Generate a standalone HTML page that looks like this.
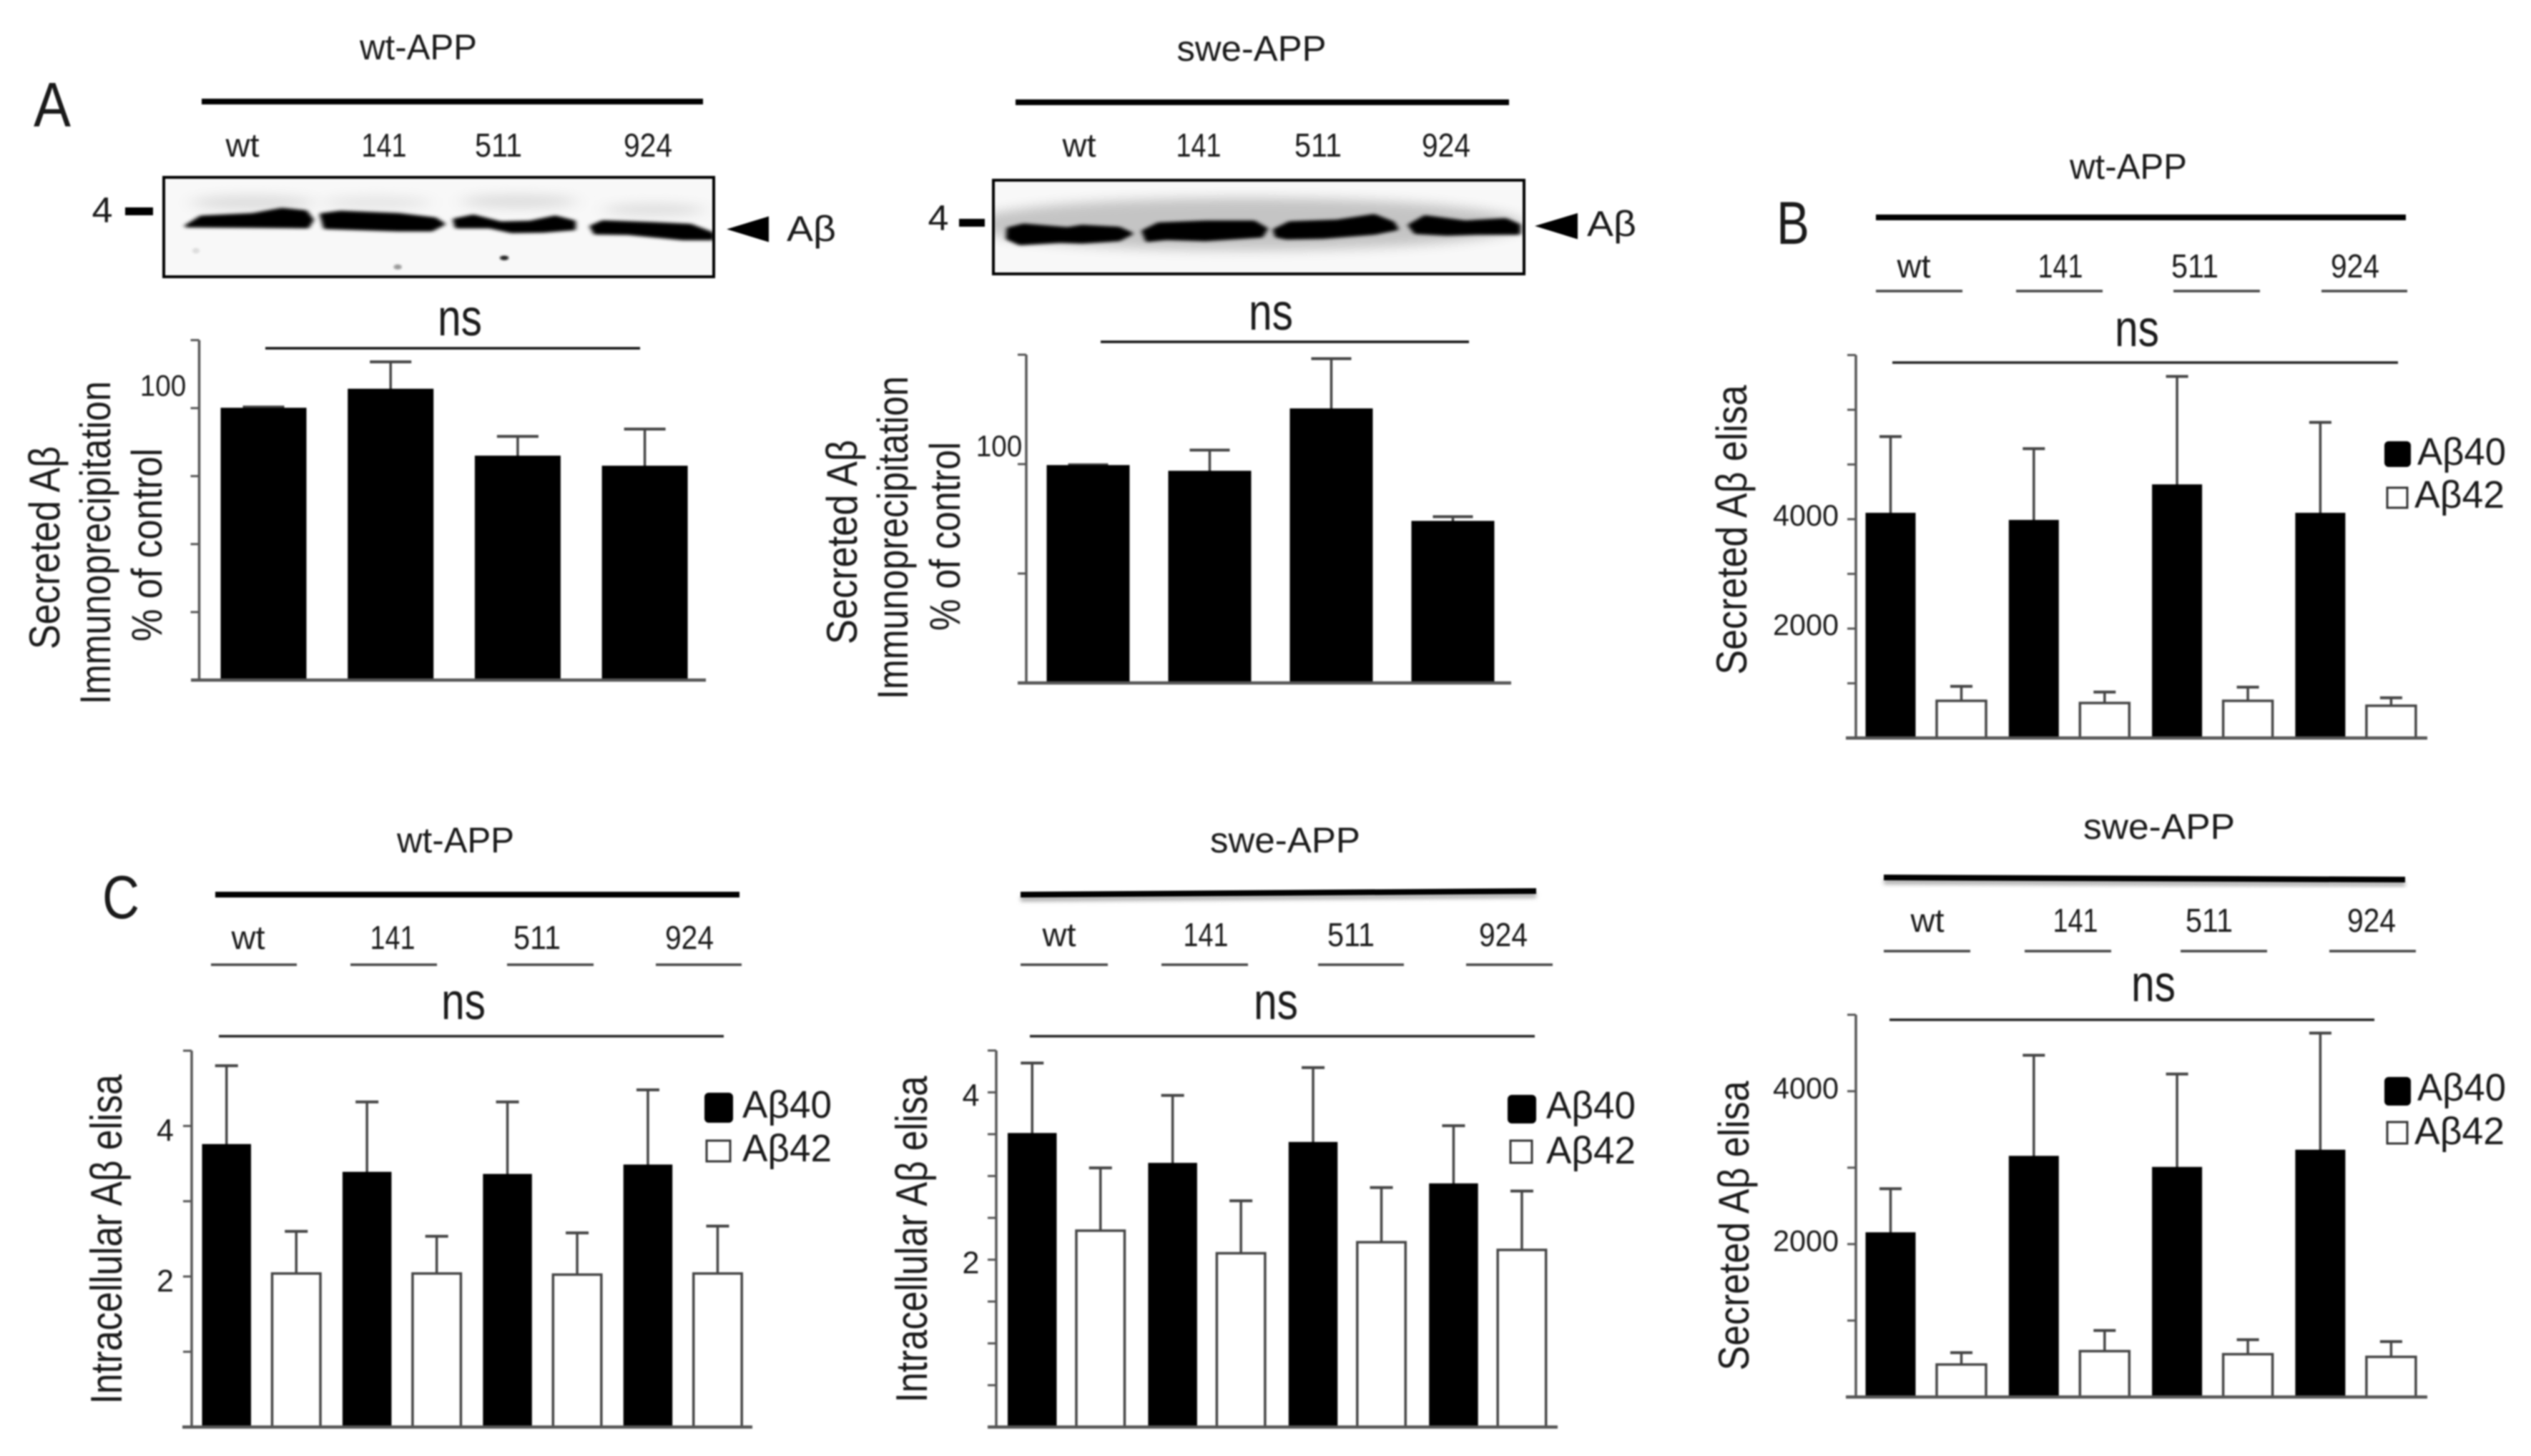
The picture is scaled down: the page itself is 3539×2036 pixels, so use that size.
<!DOCTYPE html>
<html lang="en">
<head>
<meta charset="utf-8">
<title>Secreted and intracellular A-beta western blots and ELISA charts</title>
<style>
html,body{margin:0;padding:0;background:#fff;width:3539px;height:2036px;overflow:hidden}
svg{display:block}
text{font-family:"Liberation Sans",Arial,sans-serif;fill:#1a1a1a;}
#root{filter:blur(1.1px)}
</style>
</head>
<body>
<svg id="figure" xmlns="http://www.w3.org/2000/svg" width="3539" height="2036" viewBox="0 0 3539 2036">
<defs>
<filter id="soft" x="-10%" y="-200%" width="120%" height="500%"><feGaussianBlur stdDeviation="3"/></filter>
<filter id="bandBlur" x="-20%" y="-100%" width="140%" height="300%"><feGaussianBlur stdDeviation="6"/></filter>
<filter id="haloBlur" x="-30%" y="-200%" width="160%" height="500%"><feGaussianBlur stdDeviation="24"/></filter>
<clipPath id="blot1Clip"><rect x="229" y="248" width="769" height="139"/></clipPath>
<clipPath id="blot2Clip"><rect x="1389" y="252" width="742" height="131"/></clipPath>
</defs>
<rect width="3539" height="2036" fill="#fff"/>
<g id="root">

<!-- Panel letters -->
<text x="47" y="177" font-size="88" textLength="52" lengthAdjust="spacingAndGlyphs">A</text>
<text x="2484" y="341" font-size="84" textLength="46" lengthAdjust="spacingAndGlyphs">B</text>
<text x="143" y="1284" font-size="85" textLength="52" lengthAdjust="spacingAndGlyphs">C</text>

<!-- A left header -->
<text x="585" y="83" font-size="50" text-anchor="middle" textLength="164" lengthAdjust="spacingAndGlyphs">wt-APP</text>
<line x1="282" y1="148" x2="983" y2="148" stroke="#aaa" stroke-width="7" filter="url(#soft)"/>
<line x1="282" y1="142" x2="983" y2="142" stroke="#000" stroke-width="8"/>
<text x="339" y="219" font-size="46" text-anchor="middle" textLength="47" lengthAdjust="spacingAndGlyphs">wt</text>
<text x="537" y="219" font-size="46" text-anchor="middle" textLength="63" lengthAdjust="spacingAndGlyphs">141</text>
<text x="697" y="219" font-size="46" text-anchor="middle" textLength="66" lengthAdjust="spacingAndGlyphs">511</text>
<text x="906" y="219" font-size="46" text-anchor="middle" textLength="68" lengthAdjust="spacingAndGlyphs">924</text>

<!-- Blot 1 -->
<g>
<rect x="229" y="248" width="769" height="139" fill="#f8f8f8"/>
<g clip-path="url(#blot1Clip)">
<g transform="translate(200 220) scale(0.5102 0.3333)">
<ellipse cx="300" cy="190" rx="170" ry="30" fill="#dcdcdc" filter="url(#haloBlur)"/>
<ellipse cx="640" cy="190" rx="150" ry="26" fill="#e4e4e4" filter="url(#haloBlur)"/>
<ellipse cx="1030" cy="185" rx="160" ry="28" fill="#dcdcdc" filter="url(#haloBlur)"/>
<ellipse cx="1400" cy="220" rx="140" ry="24" fill="#dcdcdc" filter="url(#haloBlur)"/>
<g filter="url(#bandBlur)" fill="#000" stroke="#000" stroke-width="12" stroke-linejoin="round">
<path d="M120 288 L160 250 L300 240 L380 218 L445 228 L462 262 L450 292 L300 290 Z"/>
<path d="M490 240 L540 230 L700 240 L800 258 L822 280 L790 305 L700 305 L500 295 Z"/>
<path d="M855 262 L905 246 L980 275 L1060 272 L1130 250 L1180 270 L1180 300 L1100 310 L1010 312 L950 292 L860 292 Z"/>
<path d="M1230 290 L1260 270 L1400 278 L1500 285 L1560 320 L1560 342 L1480 342 L1330 320 L1240 318 Z"/>
</g>
<ellipse cx="990" cy="422" rx="12" ry="10" fill="#222" filter="url(#soft)"/>
<ellipse cx="698" cy="460" rx="11" ry="11" fill="#999" filter="url(#soft)"/>
<ellipse cx="145" cy="392" rx="10" ry="12" fill="#ddd" filter="url(#soft)"/>
</g>
</g>
<rect x="229" y="248" width="769" height="139" fill="none" stroke="#000" stroke-width="4"/>
</g>
<text x="143" y="311" font-size="50" text-anchor="middle" textLength="29" lengthAdjust="spacingAndGlyphs">4</text>
<rect x="175" y="290" width="39" height="11" fill="#000"/>
<polygon points="1016,320.5 1075,302.5 1075,338.5" fill="#000"/>
<text x="1100" y="337" font-size="50" textLength="69" lengthAdjust="spacingAndGlyphs">Aβ</text>

<!-- A left stats -->
<text x="643" y="469" font-size="72" text-anchor="middle" textLength="62" lengthAdjust="spacingAndGlyphs">ns</text>
<line x1="371" y1="487" x2="895" y2="487" stroke="#111" stroke-width="3.5"/>
<text transform="translate(83 766) rotate(-90)" font-size="60" text-anchor="middle" textLength="284" lengthAdjust="spacingAndGlyphs">Secreted Aβ</text>
<text transform="translate(154 759) rotate(-90)" font-size="60" text-anchor="middle" textLength="452" lengthAdjust="spacingAndGlyphs">Immunoprecipitation</text>
<text transform="translate(226 762) rotate(-90)" font-size="60" text-anchor="middle" textLength="270" lengthAdjust="spacingAndGlyphs">% of control</text>

<!-- A right header -->
<text x="1750" y="85" font-size="50" text-anchor="middle" textLength="209" lengthAdjust="spacingAndGlyphs">swe-APP</text>
<line x1="1420" y1="149" x2="2110" y2="149" stroke="#aaa" stroke-width="7" filter="url(#soft)"/>
<line x1="1420" y1="143" x2="2110" y2="143" stroke="#000" stroke-width="8"/>
<text x="1509" y="219" font-size="46" text-anchor="middle" textLength="47" lengthAdjust="spacingAndGlyphs">wt</text>
<text x="1676" y="219" font-size="46" text-anchor="middle" textLength="63" lengthAdjust="spacingAndGlyphs">141</text>
<text x="1843" y="219" font-size="46" text-anchor="middle" textLength="66" lengthAdjust="spacingAndGlyphs">511</text>
<text x="2022" y="219" font-size="46" text-anchor="middle" textLength="68" lengthAdjust="spacingAndGlyphs">924</text>

<!-- Blot 2 -->
<g>
<rect x="1389" y="252" width="742" height="131" fill="#f8f8f8"/>
<g clip-path="url(#blot2Clip)">
<g transform="translate(1360 220) scale(0.5102 0.3333)">
<ellipse cx="750" cy="280" rx="760" ry="110" fill="#c4c4c4" filter="url(#haloBlur)"/>
<g filter="url(#bandBlur)" fill="#000" stroke="#000" stroke-width="14" stroke-linejoin="round">
<path d="M100 300 L140 285 L260 300 L300 290 L400 298 L432 320 L400 345 L300 355 L240 352 L130 362 L98 340 Z"/>
<path d="M470 310 L510 280 L640 272 L770 272 L802 300 L790 330 L640 345 L530 340 L480 348 Z"/>
<path d="M830 305 L870 275 L1000 268 L1100 245 L1150 275 L1160 300 L1100 318 L960 335 L860 338 L835 330 Z"/>
<path d="M1200 285 L1240 250 L1350 272 L1460 262 L1495 285 L1495 318 L1380 318 L1300 322 L1215 315 Z"/>
</g>
</g>
</g>
<rect x="1389" y="252" width="742" height="131" fill="none" stroke="#000" stroke-width="4"/>
</g>
<text x="1312" y="322" font-size="50" text-anchor="middle" textLength="29" lengthAdjust="spacingAndGlyphs">4</text>
<rect x="1341" y="306" width="36" height="11" fill="#000"/>
<polygon points="2146,316 2206,298 2206,334.5" fill="#000"/>
<text x="2219" y="330" font-size="50" textLength="69" lengthAdjust="spacingAndGlyphs">Aβ</text>

<!-- A right stats -->
<text x="1777" y="461" font-size="72" text-anchor="middle" textLength="62" lengthAdjust="spacingAndGlyphs">ns</text>
<line x1="1539" y1="478" x2="2054" y2="478" stroke="#111" stroke-width="3.5"/>
<text transform="translate(1198 758) rotate(-90)" font-size="60" text-anchor="middle" textLength="286" lengthAdjust="spacingAndGlyphs">Secreted Aβ</text>
<text transform="translate(1269 752) rotate(-90)" font-size="60" text-anchor="middle" textLength="452" lengthAdjust="spacingAndGlyphs">Immunoprecipitation</text>
<text transform="translate(1342 750) rotate(-90)" font-size="60" text-anchor="middle" textLength="264" lengthAdjust="spacingAndGlyphs">% of control</text>

<!-- B top header -->
<text x="2976" y="250" font-size="50" text-anchor="middle" textLength="164" lengthAdjust="spacingAndGlyphs">wt-APP</text>
<line x1="2623" y1="310" x2="3364" y2="310" stroke="#aaa" stroke-width="7" filter="url(#soft)"/>
<line x1="2623" y1="304" x2="3364" y2="304" stroke="#000" stroke-width="8"/>
<text x="2676" y="388" font-size="46" text-anchor="middle" textLength="47" lengthAdjust="spacingAndGlyphs">wt</text>
<text x="2881" y="388" font-size="46" text-anchor="middle" textLength="63" lengthAdjust="spacingAndGlyphs">141</text>
<text x="3069" y="388" font-size="46" text-anchor="middle" textLength="66" lengthAdjust="spacingAndGlyphs">511</text>
<text x="3293" y="388" font-size="46" text-anchor="middle" textLength="68" lengthAdjust="spacingAndGlyphs">924</text>
<g stroke="#444" stroke-width="3.5">
<line x1="2623" y1="407" x2="2744" y2="407"/><line x1="2819" y1="407" x2="2940" y2="407"/><line x1="3039" y1="407" x2="3160" y2="407"/><line x1="3246" y1="407" x2="3366" y2="407"/>
</g>
<text x="2988" y="484" font-size="72" text-anchor="middle" textLength="62" lengthAdjust="spacingAndGlyphs">ns</text>
<line x1="2646" y1="507" x2="3353" y2="507" stroke="#222" stroke-width="3.5"/>
<text transform="translate(2442 741) rotate(-90)" font-size="60" text-anchor="middle" textLength="405" lengthAdjust="spacingAndGlyphs">Secreted Aβ elisa</text>
<g>
<rect x="3334" y="617" width="37" height="36" rx="6" fill="#000"/>
<text x="3380" y="650" font-size="54" textLength="124" lengthAdjust="spacingAndGlyphs">Aβ40</text>
<rect x="3338" y="682" width="28" height="28" fill="#fff" stroke="#333" stroke-width="3"/>
<text x="3376" y="710" font-size="54" textLength="126" lengthAdjust="spacingAndGlyphs">Aβ42</text>
</g>

<!-- B bottom header -->
<text x="3019" y="1173" font-size="50" text-anchor="middle" textLength="212" lengthAdjust="spacingAndGlyphs">swe-APP</text>
<line x1="2634" y1="1233" x2="3363" y2="1236" stroke="#aaa" stroke-width="7" filter="url(#soft)"/>
<line x1="2634" y1="1227" x2="3363" y2="1230" stroke="#000" stroke-width="8"/>
<text x="2695" y="1303" font-size="46" text-anchor="middle" textLength="47" lengthAdjust="spacingAndGlyphs">wt</text>
<text x="2902" y="1303" font-size="46" text-anchor="middle" textLength="63" lengthAdjust="spacingAndGlyphs">141</text>
<text x="3089" y="1303" font-size="46" text-anchor="middle" textLength="66" lengthAdjust="spacingAndGlyphs">511</text>
<text x="3316" y="1303" font-size="46" text-anchor="middle" textLength="68" lengthAdjust="spacingAndGlyphs">924</text>
<g stroke="#444" stroke-width="3.5">
<line x1="2634" y1="1330" x2="2755" y2="1330"/><line x1="2831" y1="1330" x2="2952" y2="1330"/><line x1="3049" y1="1330" x2="3170" y2="1330"/><line x1="3257" y1="1330" x2="3378" y2="1330"/>
</g>
<text x="3011" y="1400" font-size="72" text-anchor="middle" textLength="62" lengthAdjust="spacingAndGlyphs">ns</text>
<line x1="2642" y1="1426" x2="3320" y2="1426" stroke="#222" stroke-width="3.5"/>
<text transform="translate(2445 1714) rotate(-90)" font-size="60" text-anchor="middle" textLength="405" lengthAdjust="spacingAndGlyphs">Secreted Aβ elisa</text>
<g>
<rect x="3334" y="1506" width="37" height="40" rx="6" fill="#000"/>
<text x="3380" y="1539" font-size="54" textLength="124" lengthAdjust="spacingAndGlyphs">Aβ40</text>
<rect x="3338" y="1569" width="28" height="30" fill="#fff" stroke="#333" stroke-width="3"/>
<text x="3376" y="1600" font-size="54" textLength="126" lengthAdjust="spacingAndGlyphs">Aβ42</text>
</g>

<!-- C left header -->
<text x="637" y="1192" font-size="50" text-anchor="middle" textLength="164" lengthAdjust="spacingAndGlyphs">wt-APP</text>
<line x1="301" y1="1257" x2="1034" y2="1257" stroke="#aaa" stroke-width="7" filter="url(#soft)"/>
<line x1="301" y1="1251" x2="1034" y2="1251" stroke="#000" stroke-width="8"/>
<text x="347" y="1327" font-size="46" text-anchor="middle" textLength="47" lengthAdjust="spacingAndGlyphs">wt</text>
<text x="549" y="1327" font-size="46" text-anchor="middle" textLength="63" lengthAdjust="spacingAndGlyphs">141</text>
<text x="751" y="1327" font-size="46" text-anchor="middle" textLength="66" lengthAdjust="spacingAndGlyphs">511</text>
<text x="964" y="1327" font-size="46" text-anchor="middle" textLength="68" lengthAdjust="spacingAndGlyphs">924</text>
<g stroke="#444" stroke-width="3.5">
<line x1="295" y1="1349" x2="415" y2="1349"/><line x1="490" y1="1349" x2="611" y2="1349"/><line x1="709" y1="1349" x2="830" y2="1349"/><line x1="917" y1="1349" x2="1037" y2="1349"/>
</g>
<text x="648" y="1425" font-size="72" text-anchor="middle" textLength="62" lengthAdjust="spacingAndGlyphs">ns</text>
<line x1="306" y1="1449" x2="1012" y2="1449" stroke="#222" stroke-width="3.5"/>
<text transform="translate(170 1733) rotate(-90)" font-size="62" text-anchor="middle" textLength="461" lengthAdjust="spacingAndGlyphs">Intracellular Aβ elisa</text>
<g>
<rect x="985" y="1528" width="40" height="42" rx="6" fill="#000"/>
<text x="1038" y="1563" font-size="54" textLength="125" lengthAdjust="spacingAndGlyphs">Aβ40</text>
<rect x="988" y="1595" width="33" height="29" fill="#fff" stroke="#333" stroke-width="3"/>
<text x="1038" y="1624" font-size="54" textLength="125" lengthAdjust="spacingAndGlyphs">Aβ42</text>
</g>

<!-- C right header -->
<text x="1797" y="1192" font-size="50" text-anchor="middle" textLength="210" lengthAdjust="spacingAndGlyphs">swe-APP</text>
<line x1="1427" y1="1257" x2="2148" y2="1252" stroke="#aaa" stroke-width="7" filter="url(#soft)"/>
<line x1="1427" y1="1251" x2="2148" y2="1246" stroke="#000" stroke-width="8"/>
<text x="1481" y="1323" font-size="46" text-anchor="middle" textLength="47" lengthAdjust="spacingAndGlyphs">wt</text>
<text x="1686" y="1323" font-size="46" text-anchor="middle" textLength="63" lengthAdjust="spacingAndGlyphs">141</text>
<text x="1889" y="1323" font-size="46" text-anchor="middle" textLength="66" lengthAdjust="spacingAndGlyphs">511</text>
<text x="2102" y="1323" font-size="46" text-anchor="middle" textLength="68" lengthAdjust="spacingAndGlyphs">924</text>
<g stroke="#444" stroke-width="3.5">
<line x1="1427" y1="1349" x2="1549" y2="1349"/><line x1="1624" y1="1349" x2="1745" y2="1349"/><line x1="1843" y1="1349" x2="1963" y2="1349"/><line x1="2050" y1="1349" x2="2171" y2="1349"/>
</g>
<text x="1784" y="1425" font-size="72" text-anchor="middle" textLength="62" lengthAdjust="spacingAndGlyphs">ns</text>
<line x1="1440" y1="1449" x2="2146" y2="1449" stroke="#222" stroke-width="3.5"/>
<text transform="translate(1296 1733) rotate(-90)" font-size="62" text-anchor="middle" textLength="457" lengthAdjust="spacingAndGlyphs">Intracellular Aβ elisa</text>
<g>
<rect x="2108" y="1531" width="40" height="40" rx="6" fill="#000"/>
<text x="2162" y="1564" font-size="54" textLength="125" lengthAdjust="spacingAndGlyphs">Aβ40</text>
<rect x="2112" y="1595" width="30" height="31" fill="#fff" stroke="#333" stroke-width="3"/>
<text x="2162" y="1627" font-size="54" textLength="125" lengthAdjust="spacingAndGlyphs">Aβ42</text>
</g>

<g id="charts"></g>
</g>
</svg>
<script>
// ---- chart data ----
const categories = ['wt', '141', '511', '924'];

const ipWtValues = [100, 107, 82.4, 78.7];
const ipWtErrors = [0.4, 10, 7.2, 13.6];
const ipWtTicks = [0, 25, 50, 75, 100, 125];
const ipWtTickLabels = ['', '', '', '', '100', ''];

const ipSweValues = [99.4, 96.8, 125.3, 73.9];
const ipSweErrors = [0.3, 9.6, 22.9, 2.1];
const ipSweTicks = [0, 50, 100, 150];
const ipSweTickLabels = ['', '', '100', ''];

const secretedWtAb40 = [4110, 3980, 4630, 4110];
const secretedWtAb40Errors = [1400, 1310, 1980, 1660];
const secretedWtAb42 = [680, 640, 680, 590];
const secretedWtAb42Errors = [265, 200, 250, 145];
const secretedWtTicks = [0, 1000, 2000, 3000, 4000, 5000, 6000, 7000];
const secretedWtTickLabels = ['', '', '2000', '', '4000', '', '', ''];

const secretedSweAb40 = [2150, 3150, 3005, 3230];
const secretedSweAb40Errors = [575, 1320, 1220, 1530];
const secretedSweAb42 = [425, 600, 560, 525];
const secretedSweAb42Errors = [155, 270, 190, 200];
const secretedSweTicks = [0, 1000, 2000, 3000, 4000, 5000];
const secretedSweTickLabels = ['', '', '2000', '', '4000', ''];

const intraWtAb40 = [3.755, 3.386, 3.358, 3.483];
const intraWtAb40Errors = [1.045, 0.934, 0.962, 0.997];
const intraWtAb42 = [2.04, 2.04, 2.025, 2.04];
const intraWtAb42Errors = [0.56, 0.495, 0.555, 0.63];
const intraWtTicks = [0, 1, 2, 3, 4, 5];
const intraWtTickLabels = ['', '', '2', '', '4', ''];

const intraSweAb40 = [3.51, 3.153, 3.403, 2.908];
const intraSweAb40Errors = [0.84, 0.811, 0.893, 0.694];
const intraSweAb42 = [2.347, 2.077, 2.209, 2.117];
const intraSweAb42Errors = [0.75, 0.627, 0.653, 0.703];
const intraSweTicks = [0, 0.5, 1, 1.5, 2, 2.5, 3, 3.5, 4, 4.5];
const intraSweTickLabels = ['', '', '', '', '2', '', '', '', '4', ''];

// ---- drawing ----
const SVGNS = 'http://www.w3.org/2000/svg';
const chartsRoot = document.getElementById('charts');

function mk(parent, tag, attrs) {
  const el = document.createElementNS(SVGNS, tag);
  for (const k in attrs) el.setAttribute(k, attrs[k]);
  parent.appendChild(el);
  return el;
}

function drawAxes(g, layout, ticks, tickLabels, yOf) {
  const axisY = mk(g, 'line', {x1: layout.axisX, x2: layout.axisX, y1: yOf(ticks[ticks.length - 1]), y2: layout.base, stroke: '#555', 'stroke-width': 3.5});
  
  
  const axisX = mk(g, 'line', {x1: layout.xStart, x2: layout.xEnd, y1: layout.base, y2: layout.base, stroke: '#555', 'stroke-width': 4.5});
  
  
  ticks.forEach(function (t, i) {
    const y = yOf(t);
    if (t !== 0) {
      const tick = mk(g, 'line', {x1: layout.axisX - 12, x2: layout.axisX, y1: y, y2: y, stroke: '#555', 'stroke-width': 3});
      
      
    }
    if (tickLabels[i]) {
      const label = mk(g, 'text', {x: layout.labelX, y: y + layout.labelDy, 'font-size': layout.labelSize, 'text-anchor': 'middle', textLength: layout.labelCharW * tickLabels[i].length, lengthAdjust: 'spacingAndGlyphs'});
      label.textContent = tickLabels[i];
      
      
    }
  });
}

function drawBar(g, x, width, value, error, yOf, base, capW, filled, name) {
  const top = yOf(value);
  const errTop = yOf(value + error);
  const cx = x + width / 2;
  const stem = mk(g, 'line', {x1: cx, x2: cx, y1: top, y2: errTop, stroke: '#444', 'stroke-width': 3.5});
  
  
  const cap = mk(g, 'line', {x1: cx - capW / 2, x2: cx + capW / 2, y1: errTop, y2: errTop, stroke: '#444', 'stroke-width': 4});
  
  
  const bar = mk(g, 'rect', {x: x, y: top, width: width, height: base - top, fill: filled ? '#000' : '#fff', stroke: filled ? '#000' : '#444', 'stroke-width': filled ? 1 : 3.5});
  
  
}

function drawChart(name, layout, ticks, tickLabels, series) {
  const g = mk(chartsRoot, 'g', {});
  
  
  const yOf = function (v) { return layout.base - v * layout.pxPerUnit; };
  series.forEach(function (s) {
    s.values.forEach(function (v, i) {
      drawBar(g, s.start + i * layout.step, layout.barW, v, s.errors[i], yOf, layout.base, layout.capW, s.filled, 'bar-' + s.key + '-' + categories[i]);
    });
  });
  drawAxes(g, layout, ticks, tickLabels, yOf);
}

drawChart('chart-ip-wt-app',
  {axisX: 278.5, base: 951, xStart: 267, xEnd: 987, pxPerUnit: 3.803, step: 177.7, barW: 119, capW: 58, labelX: 228, labelDy: -17, labelSize: 42, labelCharW: 21.5},
  ipWtTicks, ipWtTickLabels,
  [{key: 'secreted', values: ipWtValues, errors: ipWtErrors, start: 309, filled: true}]);

drawChart('chart-ip-swe-app',
  {axisX: 1435, base: 955, xStart: 1423, xEnd: 2113, pxPerUnit: 3.06, step: 170, barW: 115, capW: 56, labelX: 1397, labelDy: -11, labelSize: 42, labelCharW: 21.5},
  ipSweTicks, ipSweTickLabels,
  [{key: 'secreted', values: ipSweValues, errors: ipSweErrors, start: 1464, filled: true}]);

drawChart('chart-secreted-elisa-wt-app',
  {axisX: 2595, base: 1032, xStart: 2581, xEnd: 3394, pxPerUnit: 0.0765, step: 200.3, barW: 69, capW: 31, labelX: 2525, labelDy: 9, labelSize: 42, labelCharW: 23},
  secretedWtTicks, secretedWtTickLabels,
  [{key: 'abeta40', values: secretedWtAb40, errors: secretedWtAb40Errors, start: 2609, filled: true},
   {key: 'abeta42', values: secretedWtAb42, errors: secretedWtAb42Errors, start: 2708, filled: false}]);

drawChart('chart-secreted-elisa-swe-app',
  {axisX: 2595, base: 1953.5, xStart: 2581, xEnd: 3394, pxPerUnit: 0.1069, step: 200.3, barW: 69, capW: 31, labelX: 2525, labelDy: 10, labelSize: 42, labelCharW: 23},
  secretedSweTicks, secretedSweTickLabels,
  [{key: 'abeta40', values: secretedSweAb40, errors: secretedSweAb40Errors, start: 2609, filled: true},
   {key: 'abeta42', values: secretedSweAb42, errors: secretedSweAb42Errors, start: 2708, filled: false}]);

drawChart('chart-intracellular-elisa-wt-app',
  {axisX: 268, base: 1995.5, xStart: 255, xEnd: 1052, pxPerUnit: 105.25, step: 196.4, barW: 67.5, capW: 32, labelX: 231, labelDy: 21, labelSize: 44, labelCharW: 24},
  intraWtTicks, intraWtTickLabels,
  [{key: 'abeta40', values: intraWtAb40, errors: intraWtAb40Errors, start: 283, filled: true},
   {key: 'abeta42', values: intraWtAb42, errors: intraWtAb42Errors, start: 380.5, filled: false}]);

drawChart('chart-intracellular-elisa-swe-app',
  {axisX: 1393, base: 1995.5, xStart: 1381, xEnd: 2178, pxPerUnit: 117, step: 196.4, barW: 67.5, capW: 32, labelX: 1357.5, labelDy: 19, labelSize: 44, labelCharW: 24},
  intraSweTicks, intraSweTickLabels,
  [{key: 'abeta40', values: intraSweAb40, errors: intraSweAb40Errors, start: 1409.5, filled: true},
   {key: 'abeta42', values: intraSweAb42, errors: intraSweAb42Errors, start: 1505, filled: false}]);
</script>
</body>
</html>
